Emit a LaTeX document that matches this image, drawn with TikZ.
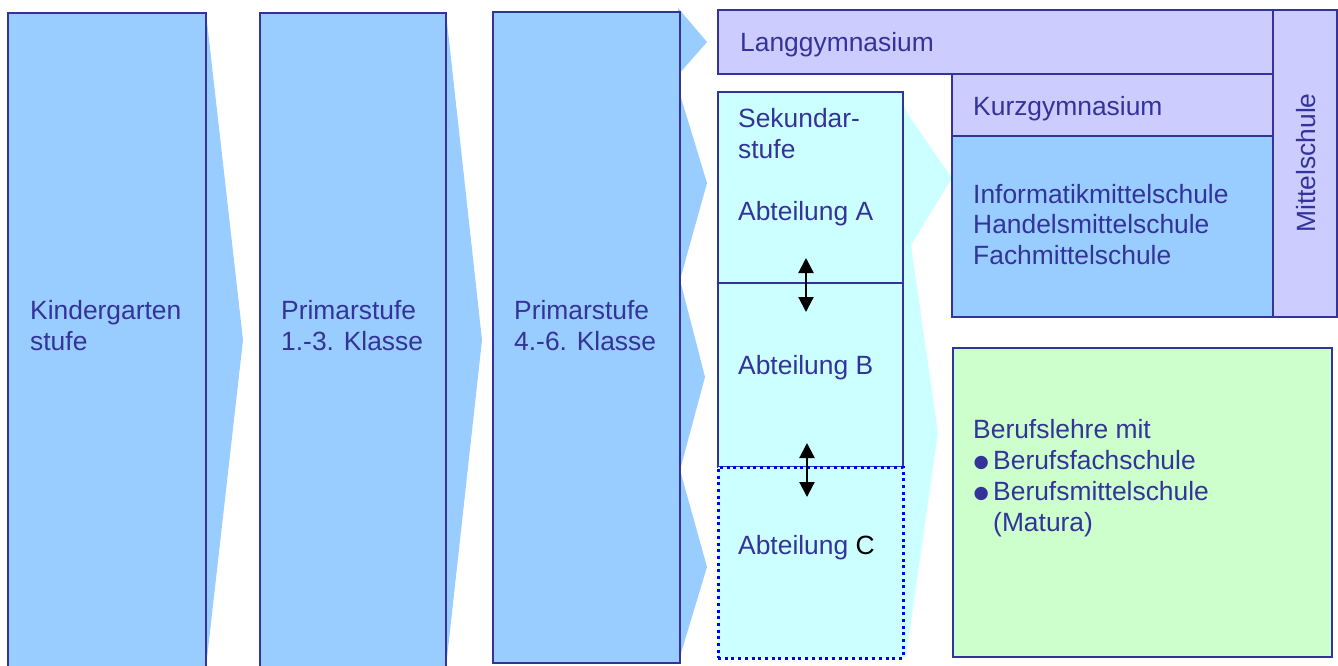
\documentclass[tikz,border=0pt]{standalone}
\usepackage{fontspec}
\setmainfont{Liberation Sans}
\newfontfamily\symfont{DejaVu Sans}
\usetikzlibrary{arrows.meta}
\definecolor{ink}{HTML}{333399}
\definecolor{stageblue}{HTML}{99CCFF}
\definecolor{lav}{HTML}{CCCCFF}
\definecolor{cyanfill}{HTML}{CCFFFF}
\definecolor{mint}{HTML}{CCFFCC}
\definecolor{dotblue}{HTML}{0000FF}
\newcommand\bulletmark{\makebox[20pt][l]{\hspace{0.5pt}\raisebox{2pt}{\fontsize{17.5}{17.5}\symfont ●}}}
\begin{document}
\begin{tikzpicture}[x=1pt,y=-1pt,
  box/.style={draw=ink, line width=2pt, rectangle, inner sep=0pt, outer sep=0pt, anchor=north west},
  lbl/.style={text=ink, font=\fontsize{26.4}{31}\selectfont, inner sep=0pt, anchor=base west, align=left},
  dbl/.style={black, line width=2.2pt, {Triangle[width=15pt,length=15pt]}-{Triangle[width=15pt,length=15pt]}}
]
\useasboundingbox (0,0) rectangle (1338,666);
\clip (0,0) rectangle (1338,666);

% arrow tails of the stages
\fill[stageblue] (206,13) -- (243,340) -- (206,667) -- cycle;
\fill[stageblue] (446,13) -- (482,340) -- (446,667) -- cycle;
\fill[stageblue] (678,8) -- (707,42) -- (678,75) -- (678,88) -- (707,183) -- (680,280)
  -- (705,377) -- (680,470) -- (707,567) -- (678,663) -- cycle;
\fill[cyanfill] (900,95) -- (907,113) -- (952,178) -- (911,245) -- (938,433)
  -- (906,657) -- (900,657) -- cycle;

% stage boxes
\node[box, fill=stageblue, minimum width=198pt, minimum height=660pt] (kg) at (8,13) {};
\node[box, fill=stageblue, minimum width=186pt, minimum height=660pt] (p1) at (260,13) {};
\node[box, fill=stageblue, minimum width=187pt, minimum height=651pt] (p2) at (493,12) {};

% upper secondary
\node[box, fill=lav, minimum width=555pt, minimum height=64pt] (lang) at (718,10) {};
\node[box, fill=lav, minimum width=321pt, minimum height=62pt] (kurz) at (952,74) {};
\node[box, fill=stageblue, minimum width=321pt, minimum height=181pt] (inf) at (952,136) {};
\node[box, fill=lav, minimum width=64pt, minimum height=307pt] (mit) at (1273,10) {};
\node[box, fill=mint, minimum width=379pt, minimum height=309pt] (beruf) at (953,348) {};

% Sekundarstufe column
\node[box, fill=cyanfill, minimum width=185pt, minimum height=191pt] (secA) at (718,92) {};
\node[box, fill=cyanfill, minimum width=185pt, minimum height=184pt] (secB) at (718,283) {};
\node[box, fill=cyanfill, draw=dotblue, line width=3pt, dash pattern=on 3pt off 3.7pt,
  minimum width=185pt, minimum height=191pt] (secC) at (718,467) {};

% permeability arrows
\coordinate (ab1) at (806,258);
\coordinate (ab2) at (806,312);
\coordinate (bc1) at (807,443);
\coordinate (bc2) at (807,497);
\draw[dbl] (ab1) -- (ab2);
\draw[dbl] (bc1) -- (bc2);

% labels (multi-line nodes sit on the baseline of their last line)
\node[lbl] (tkg) at (30,350.5) {Kindergarten\\stufe};
\node[lbl] (tp1) at (281,350.5) {Primarstufe\\1.-3. Klasse};
\node[lbl] (tp2) at (514,350.5) {Primarstufe\\4.-6. Klasse};
\node[lbl] (tlang) at (740,52) {Langgymnasium};
\node[lbl] (tsek) at (738,158) {Sekundar-\\stufe};
\node[lbl] (ta) at (738,220) {Abteilung A};
\node[lbl] (tb) at (738,374) {Abteilung B};
\node[lbl] (tc) at (738,554) {Abteilung \textcolor{black}{C}};
\node[lbl] (tkurz) at (973,116) {Kurzgymnasium};
\node[lbl, font=\fontsize{26.4}{30.5}\selectfont] (tinf) at (973,264)
  {Informatikmittelschule\\Handelsmittelschule\\Fachmittelschule};
\node[lbl, anchor=center, rotate=90] (tmit) at (1306,163) {Mittelschule};
\node[lbl, font=\fontsize{26.4}{30.7}\selectfont] (tberuf) at (973,531)
  {Berufslehre mit\\\bulletmark Berufsfachschule\\\bulletmark Berufsmittelschule\\\hspace*{20pt}(Matura)};
\end{tikzpicture}
\end{document}
